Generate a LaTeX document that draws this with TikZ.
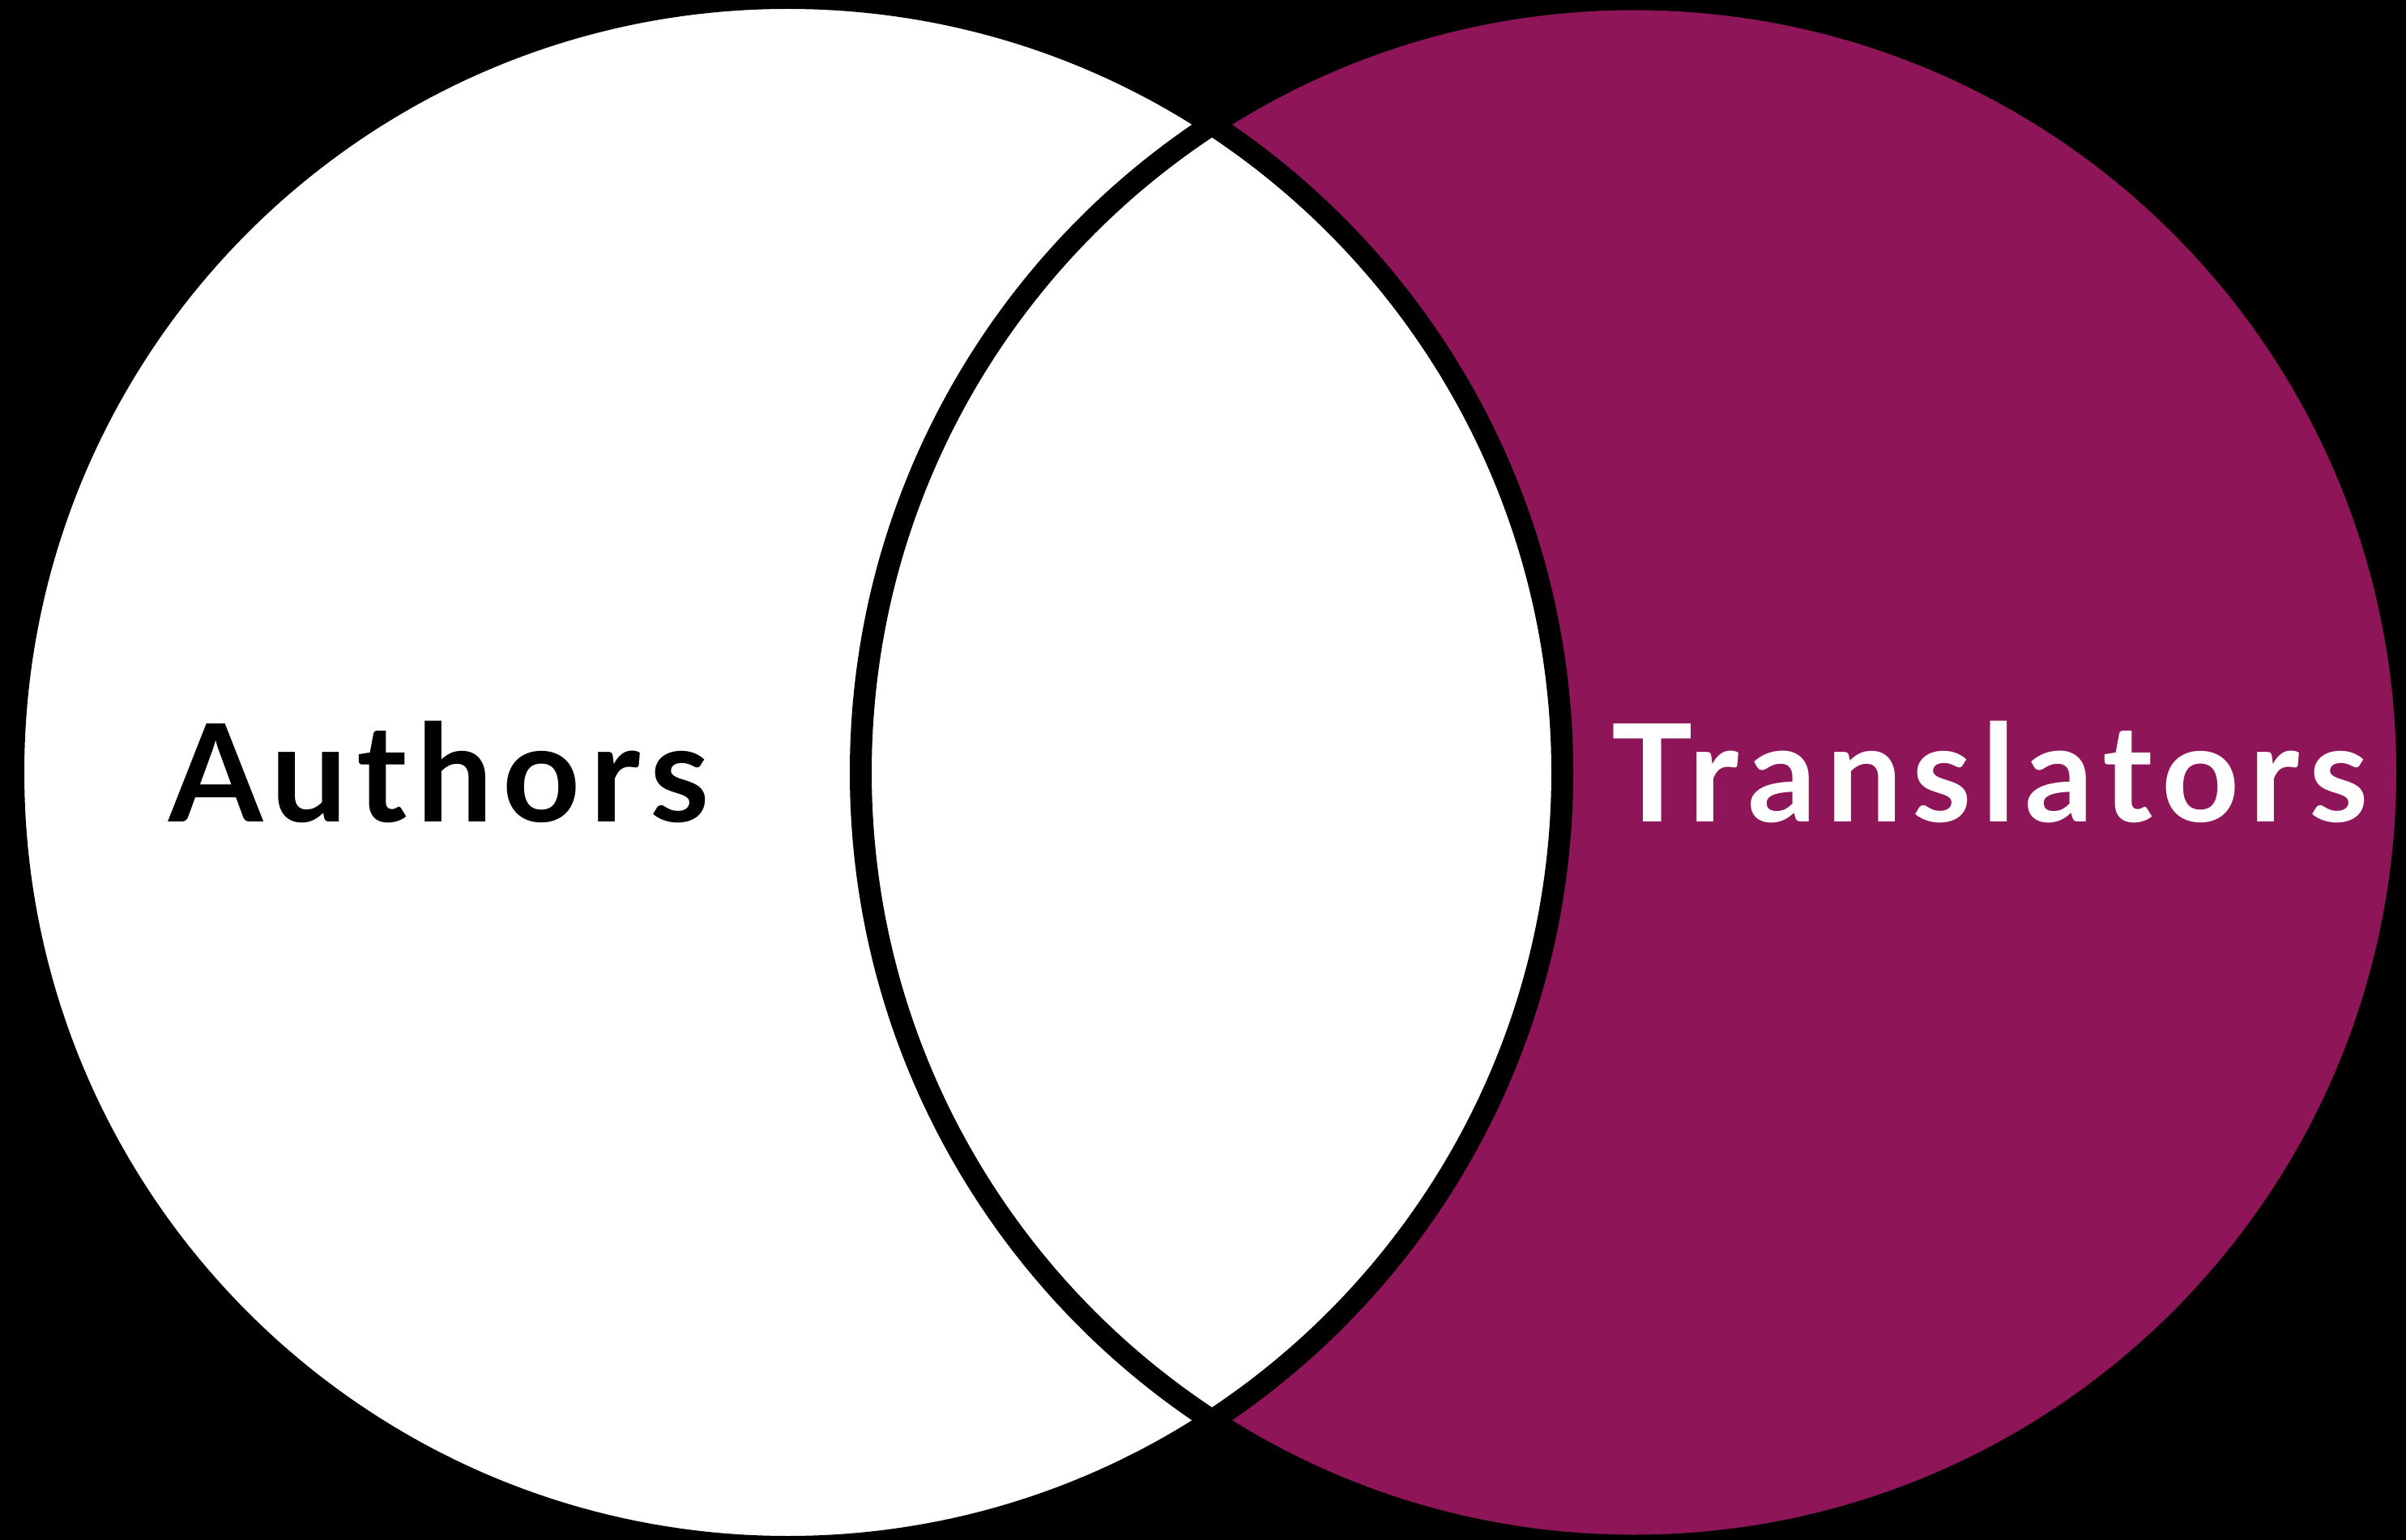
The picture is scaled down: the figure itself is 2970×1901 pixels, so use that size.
\documentclass[tikz,border=0pt]{standalone}
\usepackage{fontspec}
\setmainfont{Lato}
\newfontfamily\labelfont{Lato}[LetterSpace=7]
\definecolor{plum}{HTML}{8D1558}
\begin{document}
\begin{tikzpicture}[x=0.01cm,y=-0.01cm,
  ring/.style={draw=black,line width=0.27cm},
  lbl/.style={anchor=base west,inner sep=0pt,font=\labelfont\bfseries\fontsize{47.6}{55}\selectfont}]
\fill[black] (0,0) rectangle (2970,1901);
\useasboundingbox (0,0) rectangle (2970,1901);
\coordinate (cl) at (972.5,953.5);
\coordinate (cr) at (2017,953.5);
\fill[white] (cl) circle[radius=956];
\fill[plum] (cr) circle[radius=954.5];
\begin{scope}
  \clip (cl) circle[radius=956];
  \fill[white] (cr) circle[radius=954.5];
\end{scope}
\draw[ring] (cl) circle[radius=956];
\draw[ring] (cr) circle[radius=954.5];
\node[lbl,text=black] (authors) at (208,1014) {Authors};
\node[lbl,text=white] (translators) at (1989,1014) {Translators};
\end{tikzpicture}
\end{document}
